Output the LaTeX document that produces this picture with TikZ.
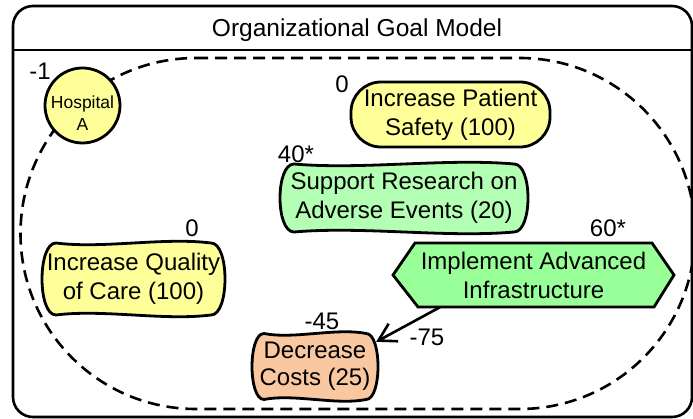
\documentclass[tikz,border=0pt]{standalone}
\usepackage{fontspec}
\setmainfont{Liberation Sans}
\usetikzlibrary{arrows.meta,calc}
\definecolor{goalyellow}{RGB}{255,255,153}
\definecolor{softgreen}{RGB}{179,255,179}
\definecolor{taskgreen}{RGB}{153,255,153}
\definecolor{costpeach}{RGB}{250,200,160}
% softgoal cloud: #1 centre, #2 half width, #3 half height, #4 fill, #5 corner inset
\newcommand\softgoalshape[5]{%
  \begin{scope}[shift={#1}]
    \draw[outline,fill=#4] (-#2+#5,-#3)
      .. controls (-#2/3,-#3+6) and (#2/3,-#3-6) .. (#2-#5,-#3)
      .. controls (#2+#5/3,-#3) and (#2+#5/3,#3) .. (#2-#5,#3)
      .. controls (#2/3,#3+6) and (-#2/3,#3-6) .. (-#2+#5,#3)
      .. controls (-#2-#5/3,#3) and (-#2-#5/3,-#3) .. cycle;
  \end{scope}}
\tikzset{
  outline/.style={draw=black,line width=2.8pt},
  txt/.style={font=\fontsize{24}{29}\selectfont,align=center,inner sep=0pt},
  lbl/.style={font=\fontsize{24}{28}\selectfont,inner sep=0pt,anchor=base},
  conn/.style={line width=2.6pt,-{Straight Barb[length=17pt,width=20pt,line width=2.6pt]}},
  boundary/.style={line width=2.6pt,dash pattern=on 12pt off 7pt},
}
\begin{document}
\begin{tikzpicture}[x=1pt,y=-1pt]
\useasboundingbox (0,0) rectangle (693,419);
\clip (0,0) rectangle (693,419);
% frame
\draw[line width=2.6pt,rounded corners=20pt] (13,6) rectangle (692,417);
\draw[line width=2.6pt] (13,50) -- (692,50);
\node[font=\fontsize{24.5}{28}\selectfont,inner sep=0pt,anchor=base] (title) at (357,37) {Organizational Goal Model};
% actor boundary
\draw[boundary] (196,58) -- (519.5,58) arc[start angle=-90,end angle=90,radius=175.5]
  -- (196,409) arc[start angle=90,end angle=270,radius=175.5] -- cycle;
% actor
\node[outline,fill=goalyellow,circle,minimum size=75pt,inner sep=0pt] (hosp) at (82.5,105.5) {};
\node[font=\fontsize{17.5}{22}\selectfont,align=center,inner sep=0pt] (hosplbl) at ($(hosp.center)+(0,8)$) {Hospital\\A};
\node[lbl] (lhosp) at (40,80) {-1};
% goal
\node[outline,fill=goalyellow,rounded corners=30pt,minimum width=199pt,minimum height=65pt,txt] (ips) at (450.5,114.5) {Increase Patient\\Safety (100)};
\node[lbl] (lips) at (342,93) {0};
% softgoals
\softgoalshape{(404,198)}{124}{34}{softgreen}{14}
\node[txt,minimum width=248pt,minimum height=68pt] (srae) at (404,198) {Support Research on\\Adverse Events (20)};
\node[lbl] (lsrae) at (296,163) {40*};
\softgoalshape{(133.5,279)}{91.5}{36}{goalyellow}{14}
\node[txt,minimum width=183pt,minimum height=72pt] (iqc) at (133.5,279) {Increase Quality\\of Care (100)};
\node[lbl] (liqc) at (192,237) {0};
\softgoalshape{(315,366.5)}{63}{33}{costpeach}{12}
\node[txt,font=\fontsize{24}{27}\selectfont,minimum width=126pt,minimum height=67pt] (dc) at (315,366.5) {Decrease\\Costs (25)};
\node[lbl] (ldc) at (322,330) {-45};
% task
\begin{scope}[shift={(533.5,275)}]
  \draw[outline,fill=taskgreen] (-140.5,0) -- (-118.5,-32) -- (118.5,-32) -- (140.5,0) -- (120.5,32) -- (-115.5,32) -- cycle;
\end{scope}
\node[txt,minimum width=281pt,minimum height=64pt] (impl) at (533.5,275) {Implement Advanced\\Infrastructure};
\node[lbl] (limpl) at (608,237) {60*};
% contribution
\draw[conn] ($(impl.south)+(-93.5,0)$) -- ($(dc.north east)+(-2,9)$);
\node[lbl] (lcontr) at (427,345) {-75};
\end{tikzpicture}
\end{document}
